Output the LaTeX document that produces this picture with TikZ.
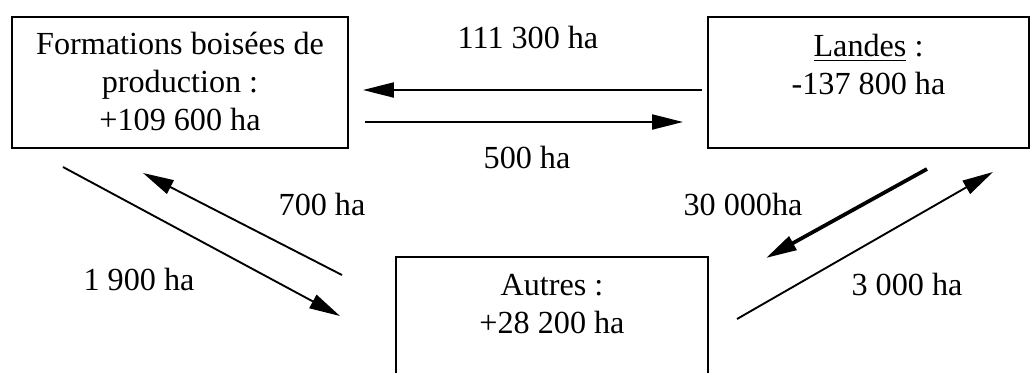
\documentclass[tikz,border=0pt]{standalone}
\usepackage{fontspec}
\setmainfont{Liberation Serif}
\usetikzlibrary{arrows.meta,positioning}
\begin{document}
\begin{tikzpicture}[x=0.373pt, y=-0.373pt,
                zone/.style={rectangle, draw, line width=0.75pt, inner sep=0pt},
                texte/.style={font=\fontsize{12}{14}\selectfont, align=center, inner sep=0pt, anchor=base},
                flux/.style={-{Triangle[length=11.5pt, width=5.6pt]}, line width=0.7pt},
                gros_flux/.style={flux, line width=1.4pt}
            ]
                \useasboundingbox (0,0) rectangle (1031,372);

                % les trois zones
                \node[zone, minimum width=125.3pt, minimum height=48.9pt] (foret) at (180,82.5) {};
                \node[zone, minimum width=119.7pt, minimum height=48.9pt] (landes) at (868.5,82.5) {};
                \node[zone, minimum width=116.4pt, minimum height=49.6pt] (autres) at (552,323.5) {};

                % base = derniere ligne
                \node[texte] (t_foret) at (180,130) {Formations boisées de\\production :\\+109 600 ha};
                \node[texte] (t_landes) at (868.5,94) {\underline{Landes} :\\-137 800 ha};
                \node[texte] (t_autres) at (552,333) {Autres :\\+28 200 ha};

                % extremites des fleches
                \coordinate (l_o) at (702,90);   \coordinate (f_i) at (363,90);
                \coordinate (f_o) at (365,122);  \coordinate (l_i) at (683,122);
                \coordinate (f_d) at (63,167);   \coordinate (a_g) at (340,316);
                \coordinate (a_h) at (342,275);  \coordinate (f_b) at (143,173);
                \coordinate (l_b) at (927,169);  \coordinate (a_d) at (766,258);
                \coordinate (a_o) at (737,319);  \coordinate (l_d) at (993,172);

                \draw[flux] (l_o) -- (f_i);
                \draw[flux] (f_o) -- (l_i);
                \draw[flux] (f_d) -- (a_g);
                \draw[flux] (a_h) -- (f_b);
                \draw[gros_flux] (l_b) -- (a_d);
                \draw[flux] (a_o) -- (l_d);

                \node[texte] (v1) at (528,48) {111 300 ha};
                \node[texte] (v2) at (527,168) {500 ha};
                \node[texte] (v3) at (322,215) {700 ha};
                \node[texte] (v4) at (139,290) {1 900 ha};
                \node[texte] (v5) at (743,215) {30 000ha};
                \node[texte] (v6) at (907,295) {3 000 ha};
            \end{tikzpicture}
\end{document}
